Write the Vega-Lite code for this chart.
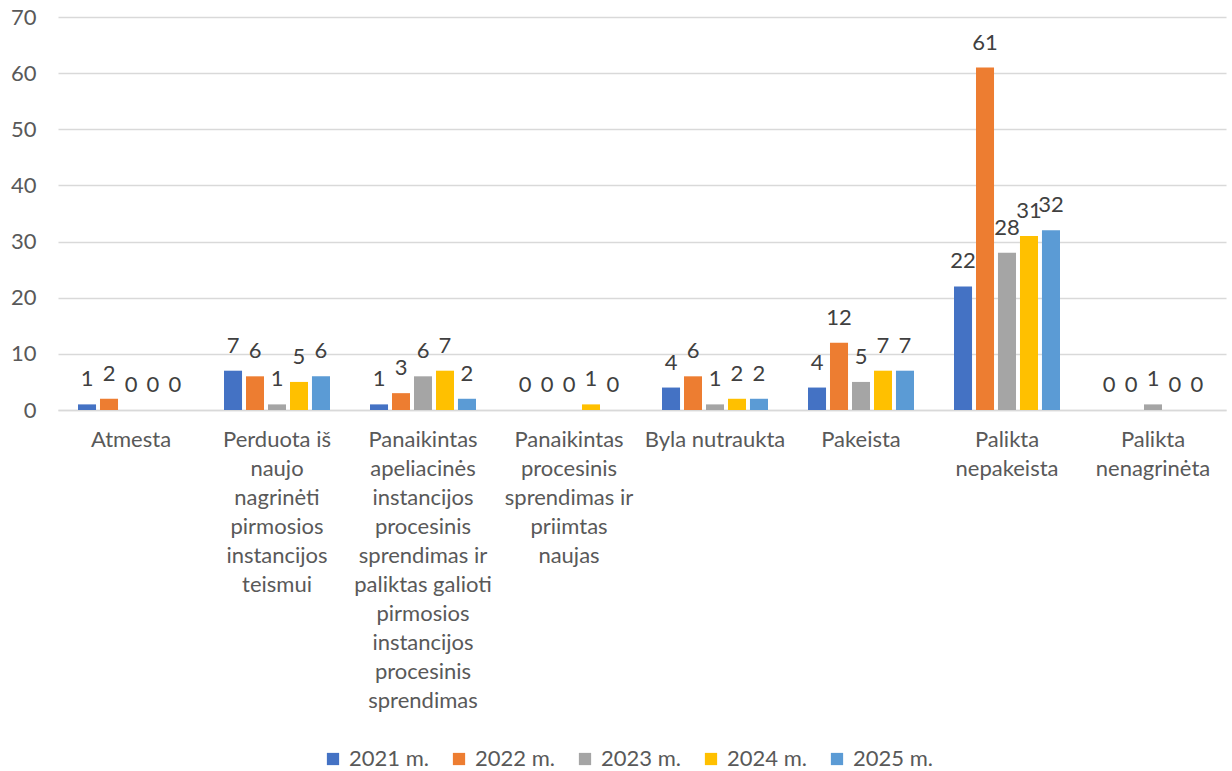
{
  "$schema": "https://vega.github.io/schema/vega-lite/v6.json",
  "width": 1168,
  "height": 393,
  "autosize": {"type": "none"},
  "padding": {"left": 58, "top": 17, "right": 6, "bottom": 361},
  "background": "white",
  "config": {
    "view": {"stroke": null},
    "font": "Lato",
    "axis": {"labelFont": "Lato", "labelColor": "#595959", "labelFontSize": 22},
    "legend": {"labelFont": "Lato", "labelColor": "#595959", "labelFontSize": 22}
  },
  "data": {
    "values": [
      {"kategorija": "Atmesta", "metai": "2021 m.", "reiksme": 1},
      {"kategorija": "Atmesta", "metai": "2022 m.", "reiksme": 2},
      {"kategorija": "Atmesta", "metai": "2023 m.", "reiksme": 0},
      {"kategorija": "Atmesta", "metai": "2024 m.", "reiksme": 0},
      {"kategorija": "Atmesta", "metai": "2025 m.", "reiksme": 0},
      {"kategorija": "Perduota iš naujo nagrinėti pirmosios instancijos teismui", "metai": "2021 m.", "reiksme": 7},
      {"kategorija": "Perduota iš naujo nagrinėti pirmosios instancijos teismui", "metai": "2022 m.", "reiksme": 6},
      {"kategorija": "Perduota iš naujo nagrinėti pirmosios instancijos teismui", "metai": "2023 m.", "reiksme": 1},
      {"kategorija": "Perduota iš naujo nagrinėti pirmosios instancijos teismui", "metai": "2024 m.", "reiksme": 5},
      {"kategorija": "Perduota iš naujo nagrinėti pirmosios instancijos teismui", "metai": "2025 m.", "reiksme": 6},
      {"kategorija": "Panaikintas apeliacinės instancijos procesinis sprendimas ir paliktas galioti pirmosios instancijos procesinis sprendimas", "metai": "2021 m.", "reiksme": 1},
      {"kategorija": "Panaikintas apeliacinės instancijos procesinis sprendimas ir paliktas galioti pirmosios instancijos procesinis sprendimas", "metai": "2022 m.", "reiksme": 3},
      {"kategorija": "Panaikintas apeliacinės instancijos procesinis sprendimas ir paliktas galioti pirmosios instancijos procesinis sprendimas", "metai": "2023 m.", "reiksme": 6},
      {"kategorija": "Panaikintas apeliacinės instancijos procesinis sprendimas ir paliktas galioti pirmosios instancijos procesinis sprendimas", "metai": "2024 m.", "reiksme": 7},
      {"kategorija": "Panaikintas apeliacinės instancijos procesinis sprendimas ir paliktas galioti pirmosios instancijos procesinis sprendimas", "metai": "2025 m.", "reiksme": 2},
      {"kategorija": "Panaikintas procesinis sprendimas ir priimtas naujas", "metai": "2021 m.", "reiksme": 0},
      {"kategorija": "Panaikintas procesinis sprendimas ir priimtas naujas", "metai": "2022 m.", "reiksme": 0},
      {"kategorija": "Panaikintas procesinis sprendimas ir priimtas naujas", "metai": "2023 m.", "reiksme": 0},
      {"kategorija": "Panaikintas procesinis sprendimas ir priimtas naujas", "metai": "2024 m.", "reiksme": 1},
      {"kategorija": "Panaikintas procesinis sprendimas ir priimtas naujas", "metai": "2025 m.", "reiksme": 0},
      {"kategorija": "Byla nutraukta", "metai": "2021 m.", "reiksme": 4},
      {"kategorija": "Byla nutraukta", "metai": "2022 m.", "reiksme": 6},
      {"kategorija": "Byla nutraukta", "metai": "2023 m.", "reiksme": 1},
      {"kategorija": "Byla nutraukta", "metai": "2024 m.", "reiksme": 2},
      {"kategorija": "Byla nutraukta", "metai": "2025 m.", "reiksme": 2},
      {"kategorija": "Pakeista", "metai": "2021 m.", "reiksme": 4},
      {"kategorija": "Pakeista", "metai": "2022 m.", "reiksme": 12},
      {"kategorija": "Pakeista", "metai": "2023 m.", "reiksme": 5},
      {"kategorija": "Pakeista", "metai": "2024 m.", "reiksme": 7},
      {"kategorija": "Pakeista", "metai": "2025 m.", "reiksme": 7},
      {"kategorija": "Palikta nepakeista", "metai": "2021 m.", "reiksme": 22},
      {"kategorija": "Palikta nepakeista", "metai": "2022 m.", "reiksme": 61},
      {"kategorija": "Palikta nepakeista", "metai": "2023 m.", "reiksme": 28},
      {"kategorija": "Palikta nepakeista", "metai": "2024 m.", "reiksme": 31},
      {"kategorija": "Palikta nepakeista", "metai": "2025 m.", "reiksme": 32},
      {"kategorija": "Palikta nenagrinėta", "metai": "2021 m.", "reiksme": 0},
      {"kategorija": "Palikta nenagrinėta", "metai": "2022 m.", "reiksme": 0},
      {"kategorija": "Palikta nenagrinėta", "metai": "2023 m.", "reiksme": 1},
      {"kategorija": "Palikta nenagrinėta", "metai": "2024 m.", "reiksme": 0},
      {"kategorija": "Palikta nenagrinėta", "metai": "2025 m.", "reiksme": 0}
    ]
  },
  "encoding": {
    "x": {
      "field": "kategorija",
      "type": "nominal",
      "sort": null,
      "scale": {"paddingInner": 0.274, "paddingOuter": 0.137},
      "axis": {
        "title": null,
        "labelAngle": 0,
        "labelBaseline": "top",
        "labelPadding": 19,
        "labelLineHeight": 29,
        "labelLimit": 0,
        "ticks": false,
        "domainColor": "#d9d9d9",
        "domainWidth": 1.5,
        "labelExpr": "({'Atmesta':['Atmesta'],'Perduota iš naujo nagrinėti pirmosios instancijos teismui':['Perduota iš','naujo','nagrinėti','pirmosios','instancijos','teismui'],'Panaikintas apeliacinės instancijos procesinis sprendimas ir paliktas galioti pirmosios instancijos procesinis sprendimas':['Panaikintas','apeliacinės','instancijos','procesinis','sprendimas ir','paliktas galioti','pirmosios','instancijos','procesinis','sprendimas'],'Panaikintas procesinis sprendimas ir priimtas naujas':['Panaikintas','procesinis','sprendimas ir','priimtas','naujas'],'Byla nutraukta':['Byla nutraukta'],'Pakeista':['Pakeista'],'Palikta nepakeista':['Palikta','nepakeista'],'Palikta nenagrinėta':['Palikta','nenagrinėta']})[datum.value]"
      }
    },
    "xOffset": {"field": "metai", "type": "nominal", "scale": {"paddingInner": 0.18, "paddingOuter": 0}},
    "y": {
      "field": "reiksme",
      "type": "quantitative",
      "scale": {"domain": [0, 70], "nice": false},
      "axis": {
        "title": null,
        "values": [0, 10, 20, 30, 40, 50, 60, 70],
        "domain": false,
        "ticks": false,
        "labelPadding": 22,
        "gridColor": "#d9d9d9",
        "gridWidth": 1.5
      }
    }
  },
  "layer": [
    {
      "mark": {"type": "bar"},
      "encoding": {
        "color": {
          "field": "metai",
          "type": "nominal",
          "scale": {
            "domain": ["2021 m.", "2022 m.", "2023 m.", "2024 m.", "2025 m."],
            "range": ["#4472C4", "#ED7D31", "#A5A5A5", "#FFC000", "#5B9BD5"]
          },
          "legend": {
            "title": null,
            "orient": "none",
            "legendX": 264,
            "legendY": 731,
            "direction": "horizontal",
            "symbolType": "square",
            "symbolSize": 150,
            "symbolStrokeWidth": 0,
            "symbolOpacity": 1,
            "labelOffset": 5,
            "columnPadding": 19
          }
        }
      }
    },
    {
      "mark": {"type": "text", "baseline": "alphabetic", "dy": -18, "fontSize": 22, "color": "#404040"},
      "encoding": {"text": {"field": "reiksme", "type": "quantitative"}}
    }
  ]
}
